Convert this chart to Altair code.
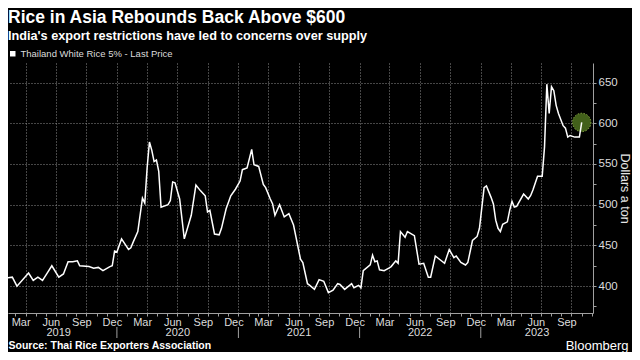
import altair as alt
import pandas as pd

# ---------------- data (weekly Thai 5% broken white rice, USD/t) ----------------
series_name = "Thailand White Rice 5% - Last Price"
first_week = "2019-01-16"
weeks = [0, 5, 7, 12, 14, 16, 18, 20, 22, 25, 27, 29, 31, 33, 34, 38, 40, 42, 44, 47,
         48, 49, 50, 52, 55, 56, 57, 59, 61, 62, 63, 64, 65, 66, 67, 68, 69, 72, 73, 74,
         75, 77, 79, 82, 84, 86, 88, 89, 90, 92, 94, 95, 97, 99, 101, 103, 104, 106, 108, 109,
         111, 113, 114, 116, 117, 118, 120, 122, 124, 126, 129, 130, 132, 133, 135, 137, 139, 141, 143, 145,
         146, 148, 151, 152, 154, 155, 156, 159, 160, 161, 162, 163, 165, 167, 168, 170, 171, 172, 174, 175,
         178, 180, 182, 184, 185, 187, 191, 193, 195, 196, 198, 200, 201, 203, 205, 206, 208, 209, 211, 212,
         213, 214, 215, 216, 218, 219, 220, 221, 222, 225, 227, 228, 229, 231, 233, 234, 235, 236, 237, 238,
         239, 240, 242, 243, 244, 245, 247, 248, 249, 250]
prices = [409, 411, 400, 416, 407, 411, 407, 416, 425, 411, 415, 430, 430, 431, 425, 424, 422, 423, 419, 424,
          425, 443, 442, 458, 445, 447, 454, 467, 508, 502, 545, 577, 567, 553, 555, 541, 497, 500, 505, 528,
          527, 507, 458, 487, 524, 517, 511, 491, 493, 464, 463, 471, 495, 511, 519, 529, 543, 545, 568, 549,
          547, 525, 521, 507, 501, 487, 500, 485, 489, 475, 433, 429, 403, 401, 396, 408, 406, 392, 395, 403,
          402, 396, 403, 398, 401, 398, 419, 426, 438, 430, 431, 420, 419, 422, 424, 431, 428, 467, 460, 467,
          462, 427, 428, 411, 411, 437, 428, 445, 435, 437, 429, 426, 429, 456, 461, 471, 521, 523, 509, 501,
          481, 471, 467, 476, 479, 493, 504, 497, 498, 513, 507, 511, 518, 535, 535, 571, 648, 612, 645, 640,
          622, 612, 597, 594, 583, 585, 583, 583, 583, 601]

# axis tick values
y_major = [400, 450, 500, 550, 600, 650]
y_minor = [375, 425, 475, 525, 575, 625]
tick_years = [2019, 2020, 2021, 2022, 2023]
quarter_starts = [alt.DateTime(year=y, month=m, date=1) for y in tick_years for m in (1, 4, 7, 10)
                  if not (y == 2019 and m == 1)]
month_starts = [alt.DateTime(year=y, month=m, date=1) for y in tick_years for m in range(1, 13)
                if not (y == 2019 and m < 3)]
year_breaks = ["2020-01-01", "2021-01-01", "2022-01-01", "2023-01-01"]
year_label_dates = [alt.DateTime(year=2019, month=7, date=8), alt.DateTime(year=2020, month=7, date=1),
                    alt.DateTime(year=2021, month=7, date=1), alt.DateTime(year=2022, month=7, date=1),
                    alt.DateTime(year=2023, month=6, date=18)]

start = pd.Timestamp(first_week)
df = pd.DataFrame({
    "date": [start + pd.Timedelta(weeks=w) for w in weeks],
    "price": prices,
    "series": series_name,
})
last = df.tail(1)
breaks = pd.DataFrame({"date": pd.to_datetime(year_breaks)})

# ---------------- styling ----------------
FONT = "Liberation Sans"
NARROW = "Liberation Sans Narrow, Liberation Sans"
GRID = "#8c8c8c"
AXIS = "#a0a0a0"
LABEL = "#dcdcdc"
W, H = 585, 250

x_scale = alt.Scale(domain=[alt.DateTime(year=2019, month=2, date=7),
                            alt.DateTime(year=2023, month=12, date=5)])
y_scale = alt.Scale(domain=[367, 674], nice=False, zero=False)

# main x axis: quarterly dotted grid + month names centred mid-month
x_axis_main = alt.Axis(
    orient="bottom", values=quarter_starts,
    grid=True, gridColor=GRID, gridDash=[1, 2], gridWidth=1,
    ticks=False, tickSize=0, domain=True, domainColor=AXIS,
    labelExpr="timeFormat(datetime(year(datum.value), month(datum.value) - 1, 15), '%b')",
    labelOffset=-5, labelPadding=3, labelFont=FONT, labelFontSize=11, labelColor=LABEL,
    labelOverlap=False, labelFlush=False, labelBound=False,
    title="Source: Thai Rice Exporters Association",
    titleX=0, titleY=32, titleAlign="left", titleBaseline="middle",
    titleFont=FONT, titleFontSize=10.5, titleFontWeight="bold", titleColor="#ffffff",
)

# monthly minor ticks
x_axis_months = alt.Axis(
    orient="bottom", values=month_starts, grid=False, domain=False, labels=False,
    ticks=True, tickSize=3, tickColor=AXIS, title=None,
)

# year labels
x_axis_years = alt.Axis(
    orient="bottom", values=year_label_dates, grid=False, domain=False, ticks=False, tickSize=0,
    format="%Y", labelPadding=19.5, labelBaseline="middle", labelFont=FONT, labelFontSize=11,
    labelColor=LABEL, labelOverlap=False, labelFlush=False, labelBound=False,
    title="Bloomberg", titleX=620, titleY=32, titleAlign="right", titleBaseline="middle",
    titleFont=FONT, titleFontSize=13, titleFontWeight="normal", titleColor="#ffffff",
)

y_axis_main = alt.Axis(
    orient="right", values=y_major,
    grid=True, gridColor=GRID, gridDash=[1, 2], gridWidth=1,
    ticks=True, tickSize=3, tickColor=AXIS, domain=True, domainColor=AXIS,
    labelPadding=2, labelFont=FONT, labelFontSize=11.5, labelColor=LABEL,
    title="Dollars a ton", titleAngle=90, titleX=31, titleY=H / 2,
    titleAlign="center", titleBaseline="middle",
    titleFont=FONT, titleFontSize=12.5, titleFontWeight="normal", titleColor="#e6e6e6",
)

y_axis_minor = alt.Axis(
    orient="right", values=y_minor, grid=False, domain=False, labels=False,
    ticks=True, tickSize=3, tickColor=AXIS, title=None,
)

year_sep = alt.Chart(breaks).mark_rule(color=AXIS, strokeWidth=1).encode(
    x=alt.X("date:T", scale=x_scale, axis=x_axis_years),
    y=alt.value(H + 14),
    y2=alt.value(H + 25),
)

circle = alt.Chart(last).mark_circle(
    size=340, color="#42601a", opacity=1, fillOpacity=1,
    stroke="#8bab44", strokeWidth=1, strokeDash=[1.5, 1.5],
).encode(
    x=alt.X("date:T", scale=x_scale, axis=x_axis_months),
    y=alt.Y("price:Q", scale=y_scale, axis=y_axis_minor),
)

line = alt.Chart(df).mark_line(strokeWidth=1.5, clip=True).encode(
    x=alt.X("date:T", scale=x_scale, axis=x_axis_main),
    y=alt.Y("price:Q", scale=y_scale, axis=y_axis_main),
    color=alt.Color("series:N", scale=alt.Scale(range=["#ffffff"]),
                    legend=alt.Legend(orient="none", legendX=0, legendY=-14, title=None,
                                      symbolType="square", symbolSize=30,
                                      symbolFillColor="#ffffff", symbolStrokeColor="#ffffff",
                                      symbolStrokeWidth=0, labelFont=NARROW, labelFontSize=9.5,
                                      labelColor=LABEL, labelOffset=3, padding=0)),
)

chart = alt.layer(year_sep, circle, line).resolve_axis(x="independent", y="independent").properties(
    width=W, height=H,
    padding={"left": 0, "top": 55, "right": 39, "bottom": 39},
    autosize=alt.AutoSizeParams(type="none"),
    background="#000000",
    title=alt.TitleParams(
        text="Rice in Asia Rebounds Back Above $600",
        subtitle="India's export restrictions have led to concerns over supply",
        anchor="start", frame="group", offset=6,
        font=FONT, fontSize=17.5, fontWeight="bold", color="#ffffff",
        subtitleFont=FONT, subtitleFontSize=12.7, subtitleFontWeight="bold",
        subtitleColor="#ffffff", subtitlePadding=4,
    ),
).configure_view(stroke=None)

chart.save("out.html", embed_options={"renderer": "svg", "actions": False})
